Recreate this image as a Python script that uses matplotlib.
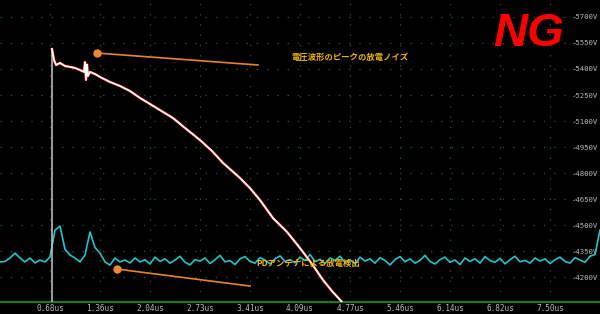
import matplotlib.pyplot as plt
import numpy as np

# x tick values (us) and y tick values (V)
xtick_vals = [0.682, 1.364, 2.046, 2.728, 3.410, 4.092, 4.774, 5.456, 6.138, 6.820, 7.502]
xtick_labels = ["0.68us", "1.36us", "2.04us", "2.73us", "3.41us", "4.09us",
                "4.77us", "5.46us", "6.14us", "6.82us", "7.50us"]
ytick_vals = [5700, 5550, 5400, 5250, 5100, 4950, 4800, 4650, 4500, 4350, 4200]
ytick_labels = ["-%dV" % v for v in ytick_vals]

# voltage waveform
volt_t = [0.709, 0.709, 0.737, 0.764, 0.818, 0.887, 0.955, 1.023, 1.091, 1.146,
          1.159, 1.173, 1.187, 1.200, 1.228, 1.296, 1.364, 1.500, 1.637, 1.773,
          1.910, 2.046, 2.182, 2.360, 2.523, 2.728, 2.892, 3.042, 3.274, 3.410,
          3.546, 3.724, 3.915, 4.092, 4.256, 4.406, 4.528, 4.665]
volt_v = [4056, 5515, 5452, 5423, 5435, 5417, 5412, 5406, 5394, 5383,
          5440, 5337, 5425, 5360, 5383, 5371, 5354, 5325, 5302, 5273,
          5233, 5198, 5163, 5117, 5060, 4990, 4927, 4858, 4771, 4713,
          4644, 4540, 4460, 4367, 4275, 4183, 4119, 4056]

# PD antenna signal, one sample every ~0.068us from 0 to 8.18us
pd_v = [4287, 4290, 4310, 4338, 4310, 4287, 4310, 4281, 4298, 4287,
        4315, 4470, 4494, 4360, 4327, 4310, 4287, 4327, 4460, 4370,
        4338, 4287, 4269, 4310, 4287, 4298, 4281, 4310, 4287, 4300,
        4275, 4315, 4290, 4305, 4280, 4298, 4320, 4285, 4270, 4300,
        4292, 4310, 4278, 4300, 4325, 4288, 4295, 4272, 4305, 4318,
        4290, 4280, 4312, 4298, 4276, 4305, 4322, 4290, 4300, 4282,
        4315, 4295, 4330, 4288, 4302, 4278, 4310, 4296, 4320, 4285,
        4300, 4275, 4315, 4292, 4305, 4280, 4312, 4295, 4270, 4300,
        4318, 4288, 4305, 4280, 4296, 4325, 4290, 4275, 4300, 4315,
        4285, 4298, 4272, 4310, 4290, 4305, 4280, 4318, 4295, 4285,
        4308, 4276, 4300, 4320, 4288, 4296, 4280, 4310, 4292, 4305,
        4278, 4300, 4315, 4290, 4280, 4312, 4298, 4285, 4320, 4330,
        4470]
pd_t = np.linspace(0, 8.184, len(pd_v))

# annotations: (dot, line end, text position, text)
note1 = [(1.323, 5492), (3.519, 5423), (3.98, 5469), "電圧波形のピークの放電ノイズ"]
note2 = [(1.596, 4246), (3.41, 4148), (3.50, 4281), "PDアンテナによる放電検出"]

fig = plt.figure(figsize=(6, 3.14), dpi=100, facecolor="black")
ax = fig.add_axes([0, 12 / 314, 1, 302 / 314])
ax.set_facecolor("black")
ax.set_xlim(0, 8.184)
ax.set_ylim(4056, 5798)

ax.grid(True, color="#1d5236", linestyle=(0, (1.2, 7)), lw=0.9)
for s in ["top", "left", "right"]:
    ax.spines[s].set_visible(False)
ax.spines["bottom"].set_color("#1f7a1f")
ax.spines["bottom"].set_linewidth(1.6)

ax.set_xticks(xtick_vals)
ax.set_xticklabels(xtick_labels, family="DejaVu Sans Mono", fontsize=5.6, color="#b8b8b8")
ax.set_yticks(ytick_vals)
ax.set_yticklabels(ytick_labels, family="DejaVu Sans Mono", fontsize=5.2, color="#b8b8b8")
ax.tick_params(axis="x", length=0, pad=1.5)
ax.tick_params(axis="y", length=0, left=False, labelleft=False, right=False,
               labelright=True, pad=-20)

ax.plot(pd_t, pd_v, color="#22c4cc", lw=1.2, zorder=2)
# rising edge drawn grey, rest white with a thin red halo
ax.plot(volt_t[:2], volt_v[:2], color="#c8c8c8", lw=1.1, zorder=4)
ax.plot(volt_t[1:], volt_v[1:], color="#ff1010", lw=1.9, zorder=3)
ax.plot(volt_t[1:], volt_v[1:], color="white", lw=1.3, zorder=4)

cjk = ["Noto Sans CJK JP", "DejaVu Sans"]
for dot, end, tpos, txt in [note1, note2]:
    ax.plot([dot[0], end[0]], [dot[1], end[1]], color="#e8832a", lw=1.2, zorder=5)
    ax.plot(dot[0], dot[1], "o", color="#f08a30", ms=5, zorder=5)
    ax.text(tpos[0], tpos[1], txt, ha="left", va="center", fontsize=6,
            color="#f0b400", family=cjk, weight="bold", zorder=6)

fig.text(529 / 600, 1 - 34 / 314, "NG", ha="center", va="center", fontsize=34,
         color="#ff0000", weight="bold", style="italic", family="Liberation Sans")

fig.savefig("out.png", dpi=100, facecolor="black")
